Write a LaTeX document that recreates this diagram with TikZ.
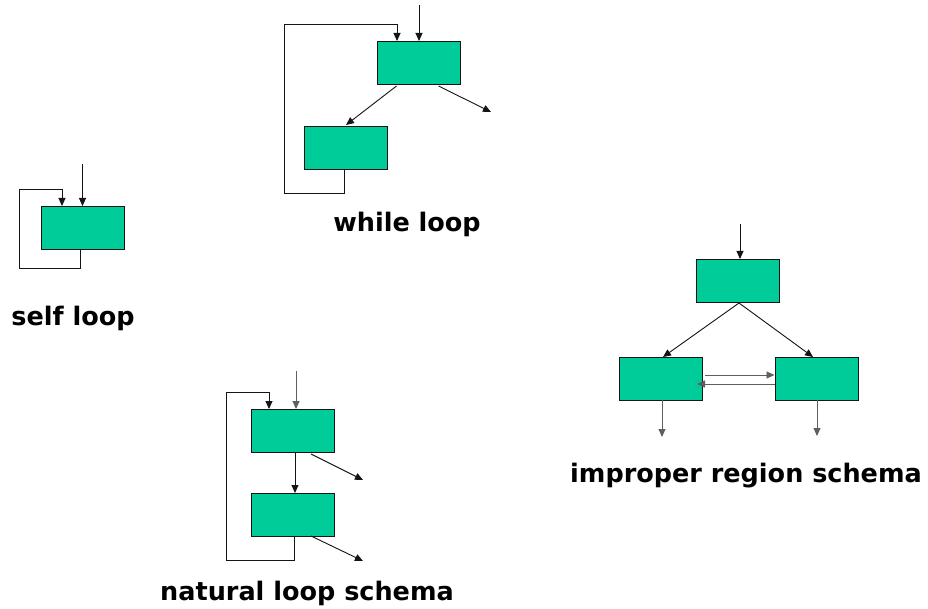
\documentclass[tikz,border=0pt]{standalone}
\usepackage{fontspec}
\setmainfont{DejaVu Sans}
\usetikzlibrary{arrows.meta,calc}
\definecolor{boxgreen}{RGB}{0,204,153}
\definecolor{edge}{RGB}{20,20,20}
\definecolor{softedge}{RGB}{95,95,95}
\tikzset{
  block/.style={rectangle, draw=edge, fill=boxgreen, line width=0.9pt,
    minimum width=83pt, minimum height=43pt, inner sep=0pt, outer sep=0pt},
  arr/.style={draw=edge, line width=0.9pt, -{Triangle[length=8pt,width=7pt]}},
  soft/.style={draw=softedge},
  caption/.style={anchor=base, inner sep=0pt, font=\bfseries\fontsize{25.5}{30}\selectfont}
}
\begin{document}
\begin{tikzpicture}[x=1pt, y=-1pt]
\useasboundingbox (0,0) rectangle (928,609);

% ---- self loop ----
\node[block] (s1) at (82.5,227.5) {};
\coordinate (s1in) at (82.5,164);
\coordinate (s1l) at (19,268);
\coordinate (s1t) at (62,189);
\draw[arr] (s1in) -- (s1in |- s1.north);
\draw[arr] (s1.south) ++(-2,0) coordinate (s1out) -- (s1out |- s1l) -| (s1t -| s1l) -| (s1t |- s1.north);
\node[caption] (s1cap) at (73,326) {self loop};

% ---- while loop ----
\node[block] (w1) at (418.5,62.5) {};
\node[block] (w2) at (346,148) {};
\coordinate (w1in) at (419,5);
\coordinate (wl) at (284,193);
\coordinate (wt) at (397,24);
\coordinate (wr) at (491,112);
\coordinate (wd) at (346,125);
\draw[arr] (w1in) -- (w1in |- w1.north);
\draw[arr] ($(w1.south)+(-22,2)$) -- (wd);
\draw[arr] ($(w1.south)+(20,2)$) -- (wr);
\draw[arr] ($(w2.south)+(-2,0)$) coordinate (w2out) -- (w2out |- wl) -| (wt -| wl) -| (wt |- w1.north);
\node[caption] (wcap) at (407,232) {while loop};

% ---- natural loop schema ----
\node[block] (n1) at (292.5,430.5) {};
\node[block] (n2) at (292.5,514.5) {};
\coordinate (nin) at (296,371);
\coordinate (nl) at (226,560);
\coordinate (nt) at (269,392);
\coordinate (ne1) at (363,480);
\coordinate (ne2) at (363,561);
\draw[arr, soft] (nin) -- (nin |- n1.north);
\draw[arr] ($(n1.south)+(2.5,0)$) coordinate (n1out) -- (n1out |- n2.north);
\draw[arr] ($(n1.south east)+(-23,2)$) -- (ne1);
\draw[arr] ($(n2.south east)+(-23,0)$) -- (ne2);
\draw[arr] ($(n2.south)+(1.5,0)$) coordinate (n2out) -- (n2out |- nl) -| (nt -| nl) -| (nt |- n1.north);
\node[caption] (ncap) at (307,600) {natural loop schema};

% ---- improper region schema ----
\node[block] (i1) at (738,280.5) {};
\node[block] (i2) at (660.5,378.5) {};
\node[block] (i3) at (817,378.5) {};
\coordinate (iin) at (740,224);
\coordinate (ix) at (739,303);
\coordinate (il) at (662,437);
\coordinate (ir) at (817,436);
\draw[arr] (iin) -- (iin |- i1.north);
\draw[arr] (ix) -- ($(i2.north)+(2.5,0)$);
\draw[arr] (ix) -- ($(i3.north)+(-4,0)$);
\draw[arr, soft] ($(i2.east)+(3,-3.5)$) -- ($(i3.west)+(-1,-3.5)$);
\draw[arr, soft] ($(i3.west)+(-1,5.5)$) -- ($(i2.east)+(-5,5.5)$);
\draw[arr, soft] (il |- i2.south) -- (il);
\draw[arr, soft] (ir |- i3.south) -- (ir);
\node[caption] (icap) at (746,482) {improper region schema};
\end{tikzpicture}
\end{document}
